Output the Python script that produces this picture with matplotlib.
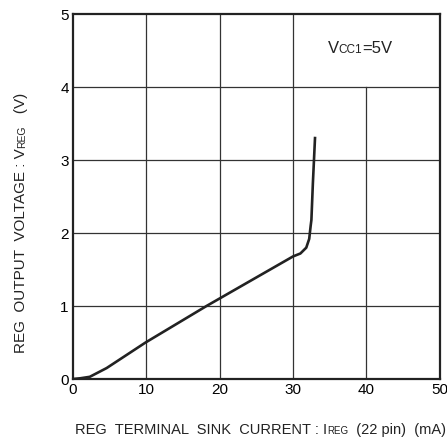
import matplotlib
matplotlib.use("Agg")
import matplotlib.pyplot as plt
from matplotlib.transforms import IdentityTransform

# REG output voltage vs. sink current
current = [0, 1.0, 2.3, 4.6, 9.9, 18.2, 30.0, 31.0, 31.8, 32.2, 32.4, 32.5, 32.7, 33.0]
voltage = [0, 0.01, 0.03, 0.15, 0.5, 1.0, 1.68, 1.72, 1.80, 1.92, 2.10, 2.18, 2.68, 3.32]

x_ticks = [0, 10, 20, 30, 40, 50]
y_ticks = [0, 1, 2, 3, 4, 5]

plt.rcParams['font.family'] = 'Liberation Sans'

fig = plt.figure(figsize=(4.47, 4.42), dpi=100)
ax = fig.add_axes([0.163, 0.1425, 0.821, 0.8255])

ax.set_xlim(0, 50)
ax.set_ylim(0, 5)
ax.set_xticks(x_ticks)
ax.set_yticks(y_ticks)
ax.tick_params(length=0, labelsize=11, pad=3)

# grid, the 40 mA line stops under the note box
for gx in [10, 20, 30]:
    ax.axvline(gx, color='#333333', lw=0.9)
ax.axvline(40, ymax=0.8, color='#333333', lw=0.9)
for gy in [1, 2, 3, 4]:
    ax.axhline(gy, color='#333333', lw=0.9)

for sp in ax.spines.values():
    sp.set_linewidth(1.6)
    sp.set_color('#222222')

ax.plot(current, voltage, color='#222222', lw=1.9, solid_capstyle='butt')

renderer = fig.canvas.get_renderer()
pix = IdentityTransform()


def chain(parts, x, y, rotation=0):
    # pieces of mixed size on one baseline, x/y in pixels from lower left
    for s, size in parts:
        t = fig.text(x, y, s, transform=pix, fontsize=size, rotation=rotation,
                     rotation_mode='anchor', ha='left', va='baseline',
                     color='#222222')
        bb = t.get_window_extent(renderer)
        if rotation == 0:
            x = bb.x1
        else:
            y = bb.y1


chain([('REG  TERMINAL  SINK  CURRENT : I', 10.5), ('REG', 7),
       ('  (22 pin)  (mA)', 10.5)], 75, 8)
chain([('REG  OUTPUT  VOLTAGE : V', 11), ('REG', 7.5), ('   (V)', 11)],
      25, 89, rotation=90)
vx, vy = ax.transData.transform((34.7, 4.47))
chain([('V', 12), ('CC1', 8.5), ('=5V', 12)], vx, vy)

fig.savefig('out.png', dpi=100)
